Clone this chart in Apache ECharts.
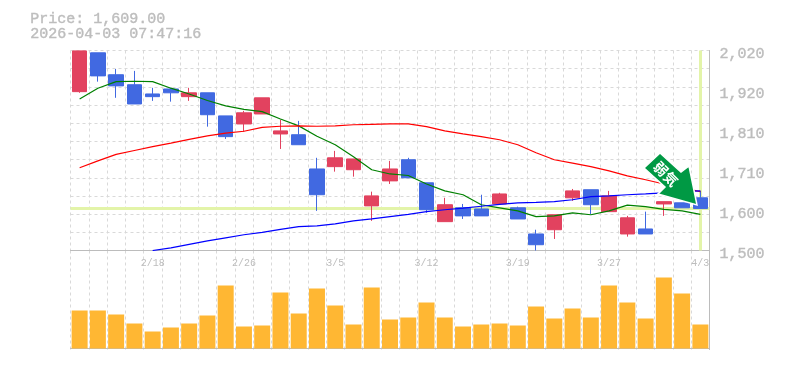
<!DOCTYPE html>
<html><head><meta charset="utf-8">
<style>html,body{margin:0;padding:0;background:#fff}#c{width:785px;height:370px}</style>
<script src="https://cdn.jsdelivr.net/npm/echarts@6/dist/echarts.min.js"></script>
</head><body><div id="c"></div>
<script>
const categories=['2/12','2/13','2/16','2/17','2/18','2/19','2/20','2/24','2/25','2/26','2/27','3/2','3/3','3/4','3/5','3/6','3/9','3/10','3/11','3/12','3/13','3/16','3/17','3/18','3/19','3/23','3/24','3/25','3/26','3/27','3/30','3/31','4/1','4/2','4/3'];
// open, close, low, high
const candles=[
[1913,2019,1910,2019],[2014,1954,1939,2014],[1957,1928,1897,1972],[1931,1881,1881,1967],[1907,1900,1889,1923],
[1920,1910,1887,1923],[1900,1910,1889,1923],[1910,1853,1822,1910],[1850,1796,1790,1850],[1829,1858,1809,1863],
[1855,1897,1855,1897],[1803,1811,1764,1840],[1801,1775,1775,1837],[1712,1645,1603,1741],[1718,1741,1705,1759],
[1710,1738,1692,1738],[1616,1642,1577,1653],[1681,1712,1673,1733],[1736,1689,1689,1741],[1676,1606,1598,1676],
[1575,1619,1575,1637],[1611,1590,1582,1621],[1608,1590,1590,1645],[1621,1647,1621,1650],[1611,1582,1582,1614],
[1543,1515,1500,1554],[1554,1593,1530,1593],[1637,1655,1629,1660],[1658,1619,1595,1658],[1601,1642,1601,1655],
[1543,1585,1536,1590],[1556,1543,1543,1601],[1621,1627,1590,1627],[1624,1611,1611,1624],[1637,1609,1609,1655]];
const maShort=[1894,1922,1939,1940,1939,1922,1907,1890,1876,1867,1861,1842,1824,1797,1775,1744,1710,1699,1695,1673,1655,1645,1619,1611,1603,1588,1590,1598,1593,1603,1618,1614,1607,1603,1594];
const maMid=[1715,1733,1750,1760,1770,1779,1789,1798,1805,1810,1820,1823,1824,1823,1824,1827,1828,1829,1829,1822,1811,1803,1796,1788,1775,1754,1736,1727,1718,1707,1694,1684,1673,1663,1653];
const maLong=[null,null,null,null,1500,1507,1516,1525,1533,1541,1547,1555,1562,1564,1569,1577,1582,1588,1594,1601,1606,1610,1615,1620,1624,1625,1627,1632,1640,1642,1645,1647,1650,1653,1655];
const volumes=[114,114,102,75,51,63,75,99,189,66,69,168,105,180,129,72,183,87,93,138,93,66,72,75,69,126,90,120,93,189,138,90,213,165,72];
const priceTicks=[1500,1604,1708,1812,1916,2020];
const price='1,609.00', stamp='2026-04-03 07:47:16', badge='弱気';
const lastPrice=1609, lastDate='4/3';

const FONT='"Liberation Mono",monospace', GRAY='#bdbdbd', AXIS='#bcbcbc', GRID='#d9d9d9';
const RED='#e2425f', BLUE='#4169e1';
const dash={color:GRID,type:[3,3],width:1};
const heavy={stroke:GRAY,lineWidth:0.4};
const chart=echarts.init(document.getElementById('c'),null,{renderer:'canvas'});
chart.setOption({
 animation:false,backgroundColor:'#fff',
 grid:[{left:70.5,right:75.5,top:50.5,height:200},{left:70.5,right:75.5,top:250.5,height:99}],
 xAxis:[
  {type:'category',gridIndex:0,data:categories,boundaryGap:true,
   axisTick:{show:false},axisLine:{lineStyle:{color:AXIS,width:1}},
   splitLine:{show:true,interval:0,lineStyle:dash},
   axisLabel:{interval:i=>i%5===4,margin:8,fontFamily:FONT,fontSize:10,color:GRAY,hideOverlap:false}},
  {type:'category',gridIndex:1,data:categories,boundaryGap:true,
   axisTick:{show:false},axisLine:{lineStyle:{color:AXIS,width:1}},
   splitLine:{show:true,interval:0,lineStyle:dash},axisLabel:{show:false}}],
 yAxis:[
  {type:'value',gridIndex:0,position:'right',min:priceTicks[0],max:priceTicks[5],interval:104,
   axisLine:{show:true,lineStyle:{color:AXIS}},axisTick:{show:false},splitLine:{show:false},
   axisLabel:{margin:10,fontFamily:FONT,fontSize:15,color:GRAY,verticalAlign:'top',lineHeight:8,
    textBorderColor:GRAY,textBorderWidth:0.4,
    formatter:v=>(Math.round(v/10)*10).toLocaleString('en-US')}},
  {type:'value',gridIndex:0,position:'left',min:0,max:11,interval:1,
   axisLine:{show:false},axisTick:{show:false},axisLabel:{show:false},splitLine:{show:true,lineStyle:dash}},
  {type:'value',gridIndex:1,position:'right',min:-3,max:294,
   axisLine:{show:true,lineStyle:{color:AXIS}},axisTick:{show:false},axisLabel:{show:false},splitLine:{show:false}}],
 series:[
  {type:'candlestick',xAxisIndex:0,yAxisIndex:0,data:candles,barWidth:15,z:3,
   itemStyle:{color:RED,color0:BLUE,borderColor:RED,borderColor0:BLUE,borderWidth:1},
   markLine:{silent:true,symbol:'none',label:{show:false},animation:false,z:2,
    lineStyle:{color:'#e3f4a9',width:3,type:'solid'},
    data:[{yAxis:lastPrice},{xAxis:lastDate}]}},
  {type:'line',xAxisIndex:0,yAxisIndex:0,data:maShort,symbol:'none',lineStyle:{color:'#008000',width:1.2},z:4},
  {type:'line',xAxisIndex:0,yAxisIndex:0,data:maMid,symbol:'none',lineStyle:{color:'#ff0000',width:1.2},z:4},
  {type:'line',xAxisIndex:0,yAxisIndex:0,data:maLong,symbol:'none',lineStyle:{color:'#0000ff',width:1.2},z:4},
  {type:'bar',xAxisIndex:1,yAxisIndex:2,data:volumes,barWidth:16,itemStyle:{color:'#ffb733'},z:3}
 ],
 graphic:[
  {type:'text',left:30,top:11,style:{text:'Price: '+price,font:'15px '+FONT,fill:GRAY,...heavy}},
  {type:'text',left:30,top:26,style:{text:stamp,font:'15px '+FONT,fill:GRAY,...heavy}},
  {type:'polygon',z:10,shape:{points:[[660,153],[681,172],[689,166],[697,205],[658,194],[665,187],[644,168]]},
   style:{fill:'#009944',stroke:'#fff',lineWidth:1.5}},
  {type:'text',z:11,x:666,y:174,rotation:-Math.PI/4,style:{text:badge,font:'bold 14px "Noto Sans CJK JP"',fill:'#fff',align:'center',verticalAlign:'middle'}}
 ]
});
</script></body></html>
